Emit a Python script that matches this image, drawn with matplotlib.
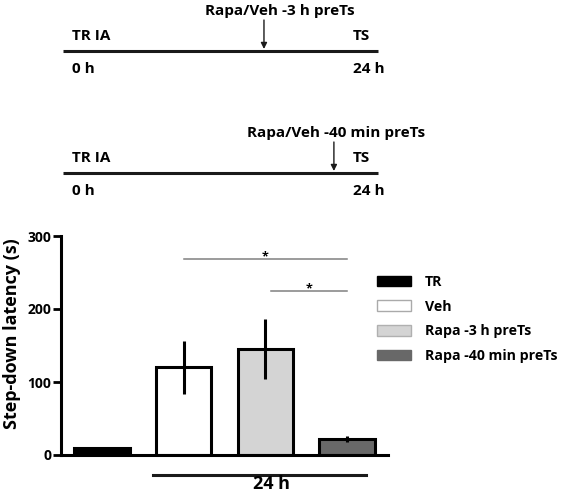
import matplotlib
matplotlib.use("Agg")
import matplotlib.pyplot as plt
from matplotlib.patches import Patch

# Data
groups = ["TR", "Veh", "Rapa -3 h preTs", "Rapa -40 min preTs"]
means = [10, 120, 145, 22]
errs = [0, 36, 41, 4]
colors = ["#000000", "#ffffff", "#d4d4d4", "#686868"]
legend_edges = ["#000000", "#aaaaaa", "#b0b0b0", "#686868"]

# significance brackets: (from, to, height)
sig_pairs = [(1, 3, 268), (2.07, 3, 224)]

# timeline schematics: label, arrow position (fraction of line), label x, align
timelines = [("Rapa/Veh -3 h preTs", 0.638, 0.689, "center"),
             ("Rapa/Veh -40 min preTs", 0.86, 0.584, "left")]
tl_y = [51, 173]

FONT = "Open Sans"
W, H = 566, 501
plt.rcParams["font.family"] = FONT
plt.rcParams["font.weight"] = "bold"
plt.rcParams["axes.labelweight"] = "bold"

fig = plt.figure(figsize=(W / 100, H / 100), dpi=100)

def fx(px):
    return px / W

def fy(py):
    return 1 - py / H

###############################################################################
# Timelines (schematic), 1 y-unit = 1 pixel
###############################################################################
for (label, arr, lx, ha), ly in zip(timelines, tl_y):
    tax = fig.add_axes([fx(63), fy(ly + 30), fx(378) - fx(63), 60 / H])
    tax.set_xlim(0, 1)
    tax.set_ylim(-30, 30)
    tax.axis("off")
    tax.plot([0, 1], [0, 0], color="#1a1a1a", lw=2.2, solid_capstyle="butt",
             clip_on=False)
    tax.text(0.029, 11, "TR IA", ha="left", va="baseline", fontsize=11)
    tax.text(0.92, 11, "TS", ha="left", va="baseline", fontsize=11)
    tax.text(0.029, -22, "0 h", ha="left", va="baseline", fontsize=11)
    tax.text(0.92, -22, "24 h", ha="left", va="baseline", fontsize=11)
    tax.annotate("", xy=(arr, 2), xytext=(arr, 31),
                 arrowprops=dict(arrowstyle="-|>", color="#1a1a1a", lw=1,
                                 mutation_scale=9, shrinkA=0, shrinkB=0),
                 annotation_clip=False)
    tax.text(lx, 36, label, ha=ha, va="baseline", fontsize=11, clip_on=False)

###############################################################################
# Bar chart
###############################################################################
ax = fig.add_axes([fx(61), fy(455), fx(388) - fx(61), (455 - 236) / H])
x = list(range(len(groups)))
ax.bar(x, means, width=0.68, color=colors, edgecolor="black", linewidth=2.2,
       zorder=2)
ax.errorbar(x, means, yerr=errs, fmt="none", ecolor="black", elinewidth=2.2,
            capsize=0, zorder=3)
ax.set_xlim(-0.5, 3.5)
ax.set_ylim(0, 300)
ax.set_yticks([0, 100, 200, 300])
ax.set_xticks([])
for s in ["top", "right"]:
    ax.spines[s].set_visible(False)
for s in ["left", "bottom"]:
    ax.spines[s].set_linewidth(2.2)
ax.tick_params(axis="y", width=2, length=6, pad=1, labelsize=10)
ax.set_ylabel("Step-down latency (s)", fontsize=13, fontweight="bold",
              va="center")
ax.yaxis.set_label_coords((12 - 61) / 327, (455 - 334) / 219)

for i, j, h in sig_pairs:
    ax.plot([i, j], [h, h], color="#808080", lw=1.1, clip_on=False)
    ax.text((i + j) / 2, h - 1, "*", ha="center", va="baseline", fontsize=9)

# group line under the axis
ax.plot([0.62, 3.23], [-27, -27], color="#1a1a1a", lw=2.2, clip_on=False)
ax.text(2.07, -47, "24 h", ha="center", va="baseline", fontsize=13)

handles = [Patch(facecolor=c, edgecolor=e, linewidth=1)
           for c, e in zip(colors, legend_edges)]
fig.legend(handles, groups, loc="upper left",
           bbox_to_anchor=(fx(377), fy(275)), frameon=False, fontsize=10.2,
           handlelength=2.4, handleheight=0.78, handletextpad=1.0,
           labelspacing=0.75, borderpad=0, borderaxespad=0)

fig.savefig("out.png", dpi=100)
